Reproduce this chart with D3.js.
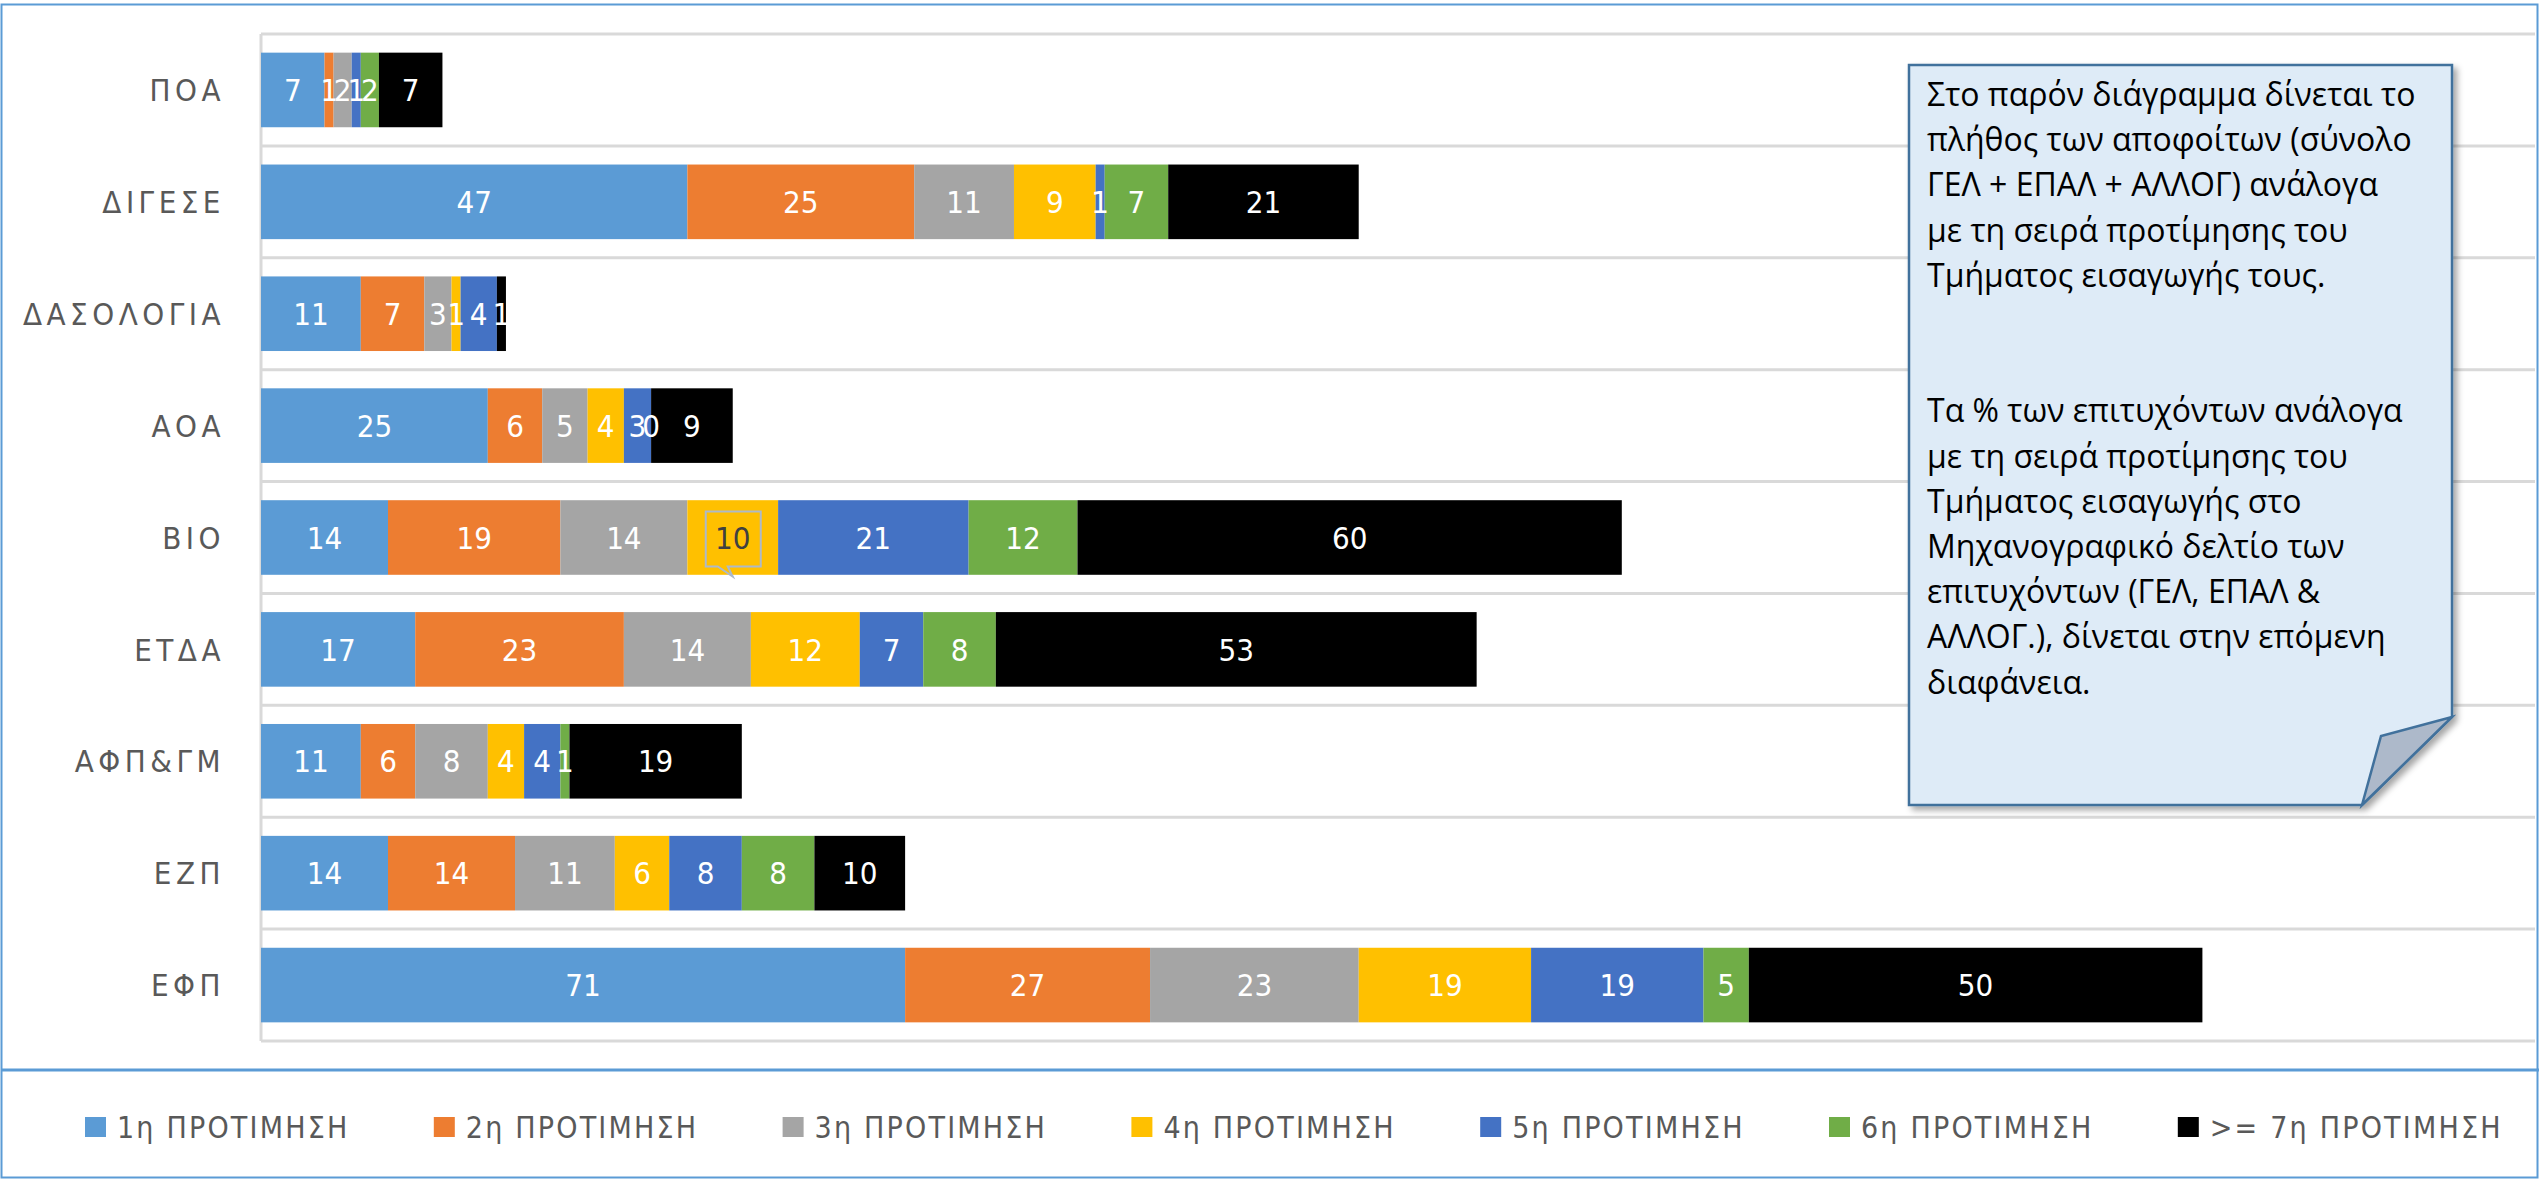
<!DOCTYPE html>
<html>
<head>
<meta charset="utf-8">
<script src="https://cdn.jsdelivr.net/npm/d3@7"></script>
<style>
  html, body { margin: 0; padding: 0; background: #fff; }
  svg { display: block; }
</style>
</head>
<body>
<svg id="chart" width="2539" height="1179"></svg>
<script>
// categories, top to bottom
const categories = ['ΠΟΑ', 'ΔΙΓΕΣΕ', 'ΔΑΣΟΛΟΓΙΑ', 'ΑΟΑ', 'ΒΙΟ', 'ΕΤΔΑ', 'ΑΦΠ&ΓΜ', 'ΕΖΠ', 'ΕΦΠ'];
const seriesNames = ['1η ΠΡΟΤΙΜΗΣΗ', '2η ΠΡΟΤΙΜΗΣΗ', '3η ΠΡΟΤΙΜΗΣΗ', '4η ΠΡΟΤΙΜΗΣΗ', '5η ΠΡΟΤΙΜΗΣΗ', '6η ΠΡΟΤΙΜΗΣΗ', '>= 7η ΠΡΟΤΙΜΗΣΗ'];
const colors = ['#5B9BD5', '#ED7D31', '#A5A5A5', '#FFC000', '#4472C4', '#70AD47', '#000000'];

// one array per series, in category order (null = empty cell)
const pref1 = [7, 47, 11, 25, 14, 17, 11, 14, 71];
const pref2 = [1, 25, 7, 6, 19, 23, 6, 14, 27];
const pref3 = [2, 11, 3, 5, 14, 14, 8, 11, 23];
const pref4 = [null, 9, 1, 4, 10, 12, 4, 6, 19];
const pref5 = [1, 1, 4, 3, 21, 7, 4, 8, 19];
const pref6 = [2, 7, null, 0, 12, 8, 1, 8, 5];
const pref7 = [7, 21, 1, 9, 60, 53, 19, 10, 50];
const seriesValues = [pref1, pref2, pref3, pref4, pref5, pref6, pref7];

const noteLines = [
  'Στο παρόν διάγραμμα δίνεται το',
  'πλήθος των αποφοίτων (σύνολο',
  'ΓΕΛ + ΕΠΑΛ + ΑΛΛΟΓ) ανάλογα',
  'με τη σειρά προτίμησης του',
  'Τμήματος εισαγωγής τους.',
  '',
  '',
  'Τα % των επιτυχόντων ανάλογα',
  'με τη σειρά προτίμησης του',
  'Τμήματος εισαγωγής στο',
  'Μηχανογραφικό δελτίο των',
  'επιτυχόντων (ΓΕΛ, ΕΠΑΛ &',
  'ΑΛΛΟΓ.), δίνεται στην επόμενη',
  'διαφάνεια.'
];

const W = 2539, H = 1179;
const plot = { left: 261, right: 2529, top: 34, bottom: 1041 };
const labelFont = "'DejaVu Sans Condensed', 'DejaVu Sans', sans-serif";

const svg = d3.select('#chart');

// build rows for the stack
const keys = d3.range(seriesNames.length);
const rows = categories.map((c, i) => {
  const r = { cat: c };
  keys.forEach(k => { r[k] = seriesValues[k][i]; });
  return r;
});
const stacked = d3.stack().keys(keys).value((d, k) => d[k] || 0)(rows);

const x = d3.scaleLinear().domain([0, 250]).range([plot.left, plot.right]);
const y = d3.scaleBand().domain(categories).range([plot.top, plot.bottom])
  .paddingInner(1 / 3).paddingOuter(1 / 6);

// outer frame
svg.append('rect')
  .attr('x', 1.5).attr('y', 4.5).attr('width', W - 3).attr('height', H - 6)
  .attr('fill', 'none').attr('stroke', '#5B9BD5').attr('stroke-width', 2);
svg.append('line')
  .attr('x1', 1).attr('x2', W).attr('y1', 1070).attr('y2', 1070)
  .attr('stroke', '#5B9BD5').attr('stroke-width', 3);

// category separators
const step = y.step();
svg.append('g').selectAll('line')
  .data(d3.range(categories.length + 1))
  .join('line')
  .attr('x1', plot.left).attr('x2', W - 4)
  .attr('y1', i => plot.top + i * step).attr('y2', i => plot.top + i * step)
  .attr('stroke', '#D9D9D9').attr('stroke-width', 3);

// category axis line
svg.append('line')
  .attr('x1', plot.left).attr('x2', plot.left)
  .attr('y1', plot.top).attr('y2', plot.bottom)
  .attr('stroke', '#D9D9D9').attr('stroke-width', 3);

// category labels
svg.append('g').selectAll('text')
  .data(categories)
  .join('text')
  .attr('x', 225)
  .attr('y', d => y(d) + y.bandwidth() / 2)
  .attr('dy', '0.36em')
  .attr('text-anchor', 'end')
  .attr('fill', '#595959')
  .attr('font-family', labelFont)
  .attr('font-size', 31)
  .attr('letter-spacing', 4.5)
  .text(d => d);

// bars
const layers = svg.append('g').selectAll('g')
  .data(stacked)
  .join('g')
  .attr('fill', d => colors[d.key]);

layers.selectAll('rect')
  .data(d => d)
  .join('rect')
  .attr('x', d => x(d[0]))
  .attr('y', d => y(d.data.cat))
  .attr('width', d => x(d[1]) - x(d[0]))
  .attr('height', y.bandwidth());

// data labels
const calloutCat = 'ΒΙΟ', calloutKey = 3;
const labels = [];
stacked.forEach(s => {
  s.forEach(d => {
    const v = d.data[s.key];
    if (v === null || v === undefined) return;
    labels.push({ key: s.key, cat: d.data.cat, v, cx: (x(d[0]) + x(d[1])) / 2 });
  });
});

const callout = labels.find(l => l.cat === calloutCat && l.key === calloutKey);
if (callout) {
  const bx0 = callout.cx - 27, bx1 = callout.cx + 28;
  const by0 = y(callout.cat) + y.bandwidth() / 2 - 26, by1 = by0 + 55;
  svg.append('path')
    .attr('d', `M${bx0},${by0}H${bx1}V${by1}H${bx0 + 22}L${bx0 + 27},${by1 + 10}L${bx0 + 12},${by1}H${bx0}Z`)
    .attr('fill', 'none').attr('stroke', '#ADB9CA').attr('stroke-width', 2);
}

svg.append('g').selectAll('text')
  .data(labels)
  .join('text')
  .attr('x', d => d.cx)
  .attr('y', d => y(d.cat) + y.bandwidth() / 2)
  .attr('dy', '0.36em')
  .attr('text-anchor', 'middle')
  .attr('fill', d => (d === callout ? '#404040' : '#FFFFFF'))
  .attr('font-family', labelFont)
  .attr('font-size', 31)
  .text(d => d.v);

// legend
const legend = svg.append('g').selectAll('g')
  .data(seriesNames)
  .join('g')
  .attr('transform', (d, i) => `translate(${85 + i * 348.8},1127)`);
legend.append('rect')
  .attr('x', 0).attr('y', -10).attr('width', 21).attr('height', 20)
  .attr('fill', (d, i) => colors[i]);
legend.append('text')
  .attr('x', 32).attr('dy', '0.36em')
  .attr('fill', '#595959')
  .attr('font-family', labelFont)
  .attr('font-size', 30)
  .attr('letter-spacing', 2.2)
  .text(d => d);

// note box with folded corner
const defs = svg.append('defs');
const f = defs.append('filter').attr('id', 'shadow').attr('x', '-5%').attr('y', '-5%').attr('width', '115%').attr('height', '115%');
f.append('feDropShadow').attr('dx', 4).attr('dy', 4).attr('stdDeviation', 3)
  .attr('flood-color', '#000').attr('flood-opacity', 0.35);

const nb = { x0: 1909, x1: 2452, y0: 65, y1: 805, foldY: 717, foldX: 2362 };
const note = svg.append('g');
note.append('path')
  .attr('d', `M${nb.x0},${nb.y0}H${nb.x1}V${nb.foldY}L${nb.foldX},${nb.y1}H${nb.x0}Z`)
  .attr('fill', '#DEEBF7').attr('stroke', '#41719C').attr('stroke-width', 2.5)
  .attr('filter', 'url(#shadow)');
note.append('path')
  .attr('d', `M${nb.x1},${nb.foldY}L${nb.foldX + 19},${nb.foldY + 19}L${nb.foldX},${nb.y1}Z`)
  .attr('fill', '#ADB9CA').attr('stroke', '#41719C').attr('stroke-width', 2.5);

note.append('g').selectAll('text')
  .data(noteLines)
  .join('text')
  .attr('x', 1927)
  .attr('y', (d, i) => 106 + i * 45.2)
  .attr('fill', '#000')
  .attr('font-family', "'Open Sans', 'Noto Sans', sans-serif")
  .attr('font-size', 32)
  .text(d => d);
</script>
</body>
</html>
